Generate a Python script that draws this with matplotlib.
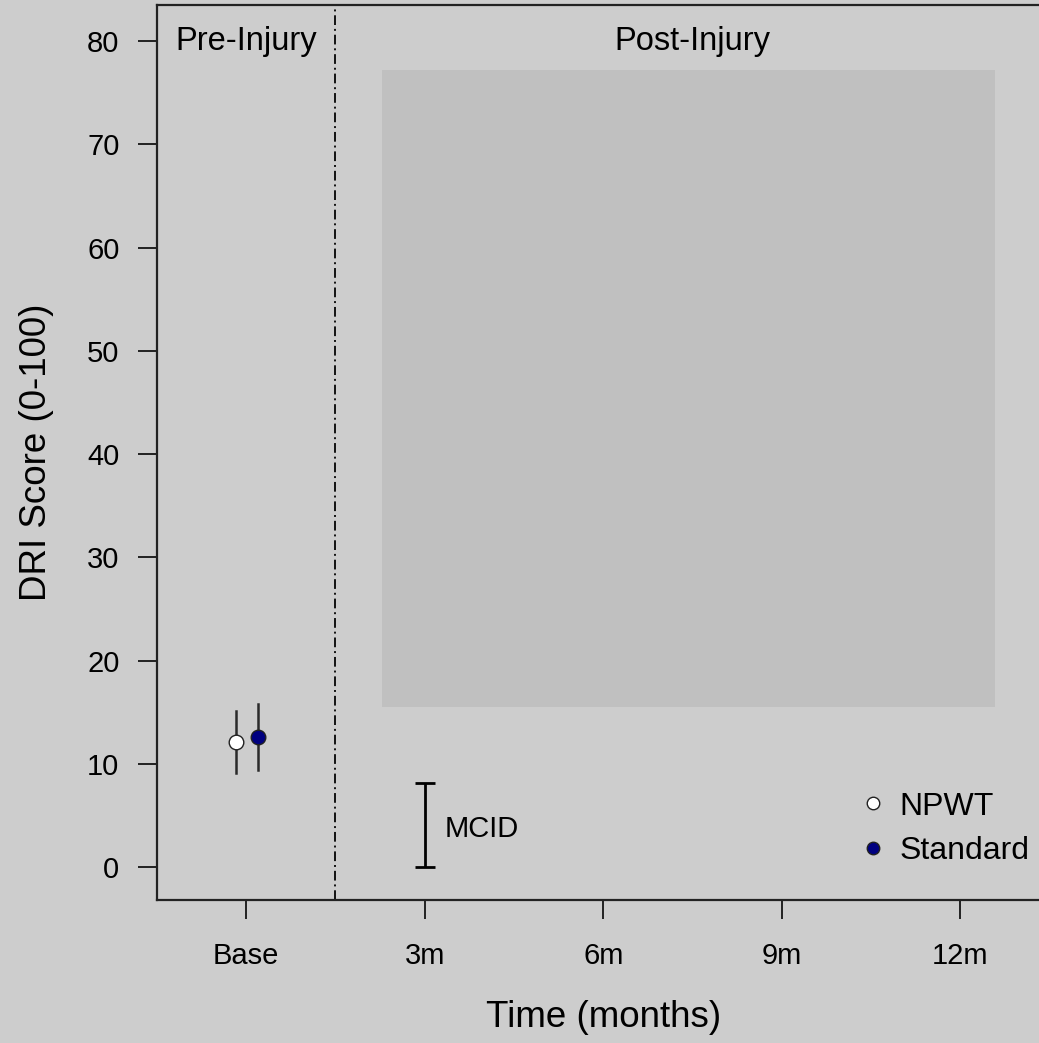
import matplotlib.pyplot as plt
from matplotlib.lines import Line2D
from matplotlib.patches import Rectangle

plt.rcParams['font.family'] = ['Liberation Sans', 'DejaVu Sans']

# data
groups = ['NPWT', 'Standard']
x_pos = [-0.18, 0.2]
means = [12.1, 12.6]
lower = [9.1, 9.4]
upper = [15.1, 15.8]
face_cols = ['white', '#000080']

tick_pos = [0, 3, 6, 9, 12]
tick_lab = ['Base', '3m', '6m', '9m', '12m']
y_ticks = [0, 10, 20, 30, 40, 50, 60, 70, 80]

mcid_x = 3
mcid_lo, mcid_hi = 0, 8.1

shade_x = (2.29, 12.59)
shade_y = (15.5, 77.2)

bg = '#cdcdcd'

fig = plt.figure(figsize=(10.39, 10.43), dpi=100, facecolor=bg)
ax = fig.add_axes([0.1511, 0.1371, 0.859, 0.8581], facecolor=bg)
ax.set_xlim(-1.5, 13.5)
ax.set_ylim(-3.2, 83.5)

ax.add_patch(Rectangle((shade_x[0], shade_y[0]), shade_x[1] - shade_x[0],
                       shade_y[1] - shade_y[0], facecolor='#c0c0c0',
                       edgecolor='none', zorder=0))

ax.axvline(1.5, color='#111111', lw=1.4, ls=(0, (5, 2, 1, 2)), zorder=1)

for i in range(len(groups)):
    ax.plot([x_pos[i], x_pos[i]], [lower[i], upper[i]], color='#2a2a2a',
            lw=1.8, zorder=2)
    ax.plot(x_pos[i], means[i], 'o', ms=10.5, mfc=face_cols[i],
            mec='#222222', mew=1.0, zorder=3)

# MCID bar
ax.errorbar([mcid_x], [(mcid_lo + mcid_hi) / 2],
            yerr=[[(mcid_hi - mcid_lo) / 2]], fmt='none', ecolor='black',
            elinewidth=2, capsize=7, capthick=2)
ax.text(3.33, 3.7, 'MCID', fontsize=21, va='center', ha='left')

ax.text(0, 80.0, 'Pre-Injury', fontsize=23.5, ha='center', va='center')
ax.text(7.5, 80.0, 'Post-Injury', fontsize=23.5, ha='center', va='center')

ax.set_xticks(tick_pos)
ax.set_xticklabels(tick_lab, fontsize=21)
ax.set_yticks(y_ticks)
ax.set_yticklabels([str(v) for v in y_ticks], fontsize=21)
ax.tick_params(axis='both', length=14, width=1.4, color='#222222')
ax.tick_params(axis='x', pad=16)
ax.tick_params(axis='y', pad=13)
for s in ax.spines.values():
    s.set_linewidth(1.6)
    s.set_color('#222222')

ax.set_xlabel('Time (months)', fontsize=26.5, labelpad=22)
ax.set_ylabel('DRI Score (0-100)', fontsize=26.5, labelpad=24)

handles = [Line2D([], [], ls='none', marker='o', ms=9, mfc=face_cols[i],
                  mec='#222222', mew=1.0, label=groups[i])
           for i in range(len(groups))]
ax.legend(handles=handles, loc='lower left', bbox_to_anchor=(0.767, 0.013),
          frameon=False, fontsize=23, handlelength=0.6, handletextpad=0.5,
          labelspacing=0.45, borderpad=0.2)

fig.savefig('out.png', dpi=100, facecolor=bg)
